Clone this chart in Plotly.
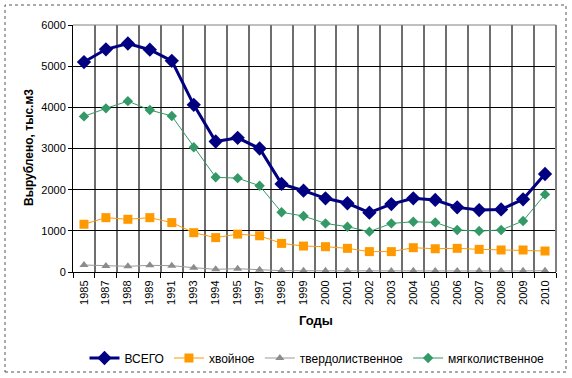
import plotly.graph_objects as go

years = ["1985", "1987", "1988", "1989", "1991", "1993", "1994", "1995", "1997", "1998",
         "1999", "2000", "2001", "2002", "2003", "2004", "2005", "2006", "2007", "2008",
         "2009", "2010"]

total = [5100, 5410, 5550, 5400, 5130, 4060, 3170, 3260, 3000, 2140,
         1975, 1790, 1670, 1440, 1650, 1790, 1750, 1570, 1505, 1520, 1765, 2380]
conifer = [1160, 1320, 1280, 1320, 1200, 955, 835, 920, 880, 695,
           630, 615, 575, 495, 495, 590, 565, 575, 550, 535, 535, 510]
hardwood = [170, 146, 138, 162, 154, 105, 65, 80, 57, 32,
            30, 28, 27, 25, 25, 28, 27, 25, 25, 25, 28, 30]
softwood = [3780, 3975, 4150, 3935, 3790, 3030, 2300, 2280, 2095, 1450,
            1360, 1180, 1100, 980, 1180, 1220, 1205, 1020, 995, 1020, 1240, 1885]

names = ["ВСЕГО", "хвойное", "твердолиственное", "мягколиственное"]

fig = go.Figure()
fig.add_trace(go.Scatter(x=years, y=total, name=names[0], mode="lines+markers",
                         line=dict(color="#000080", width=3),
                         marker=dict(symbol="diamond", size=11, color="#000080")))
fig.add_trace(go.Scatter(x=years, y=conifer, name=names[1], mode="lines+markers",
                         line=dict(color="#FF9900", width=1),
                         marker=dict(symbol="square", size=9, color="#FF9900")))
fig.add_trace(go.Scatter(x=years, y=hardwood, name=names[2], mode="lines+markers",
                         line=dict(color="#999999", width=1),
                         marker=dict(symbol="triangle-up", size=8, color="#8C8C8C")))
fig.add_trace(go.Scatter(x=years, y=softwood, name=names[3], mode="lines+markers",
                         line=dict(color="#339966", width=1),
                         marker=dict(symbol="diamond", size=8, color="#339966")))

W, H = 572, 378
L, R, T, B = 73, 556, 25, 272
pw, ph = R - L, B - T

def px(x):
    return (x - L) / pw

def py(y):
    return (B - y) / ph

fig.update_layout(
    width=W, height=H,
    margin=dict(l=L, r=W - R, t=T, b=H - B, autoexpand=False),
    paper_bgcolor="white", plot_bgcolor="white",
    font=dict(family="Liberation Sans, Arial, sans-serif", size=11, color="black"),
    showlegend=True,
    legend=dict(orientation="h", xref="container", yref="container",
                x=317 / W, xanchor="center", y=1 - 358 / H, yanchor="middle",
                font=dict(size=12), itemwidth=30, tracegroupgap=0, bgcolor="rgba(0,0,0,0)"),
    xaxis=dict(type="category", tickson="boundaries", range=[-0.5, len(years) - 0.5],
               showgrid=True, gridcolor="#6e6e6e", gridwidth=1.5,
               ticks="outside", ticklen=5, tickcolor="black", tickangle=-90,
               showline=True, linecolor="black", linewidth=1, mirror=False,
               tickfont=dict(size=11), ticklabelstandoff=3, automargin=False),
    yaxis=dict(range=[0, 6000], dtick=1000, showgrid=True, gridcolor="black", gridwidth=1,
               ticks="outside", ticklen=4, tickcolor="black",
               showline=True, linecolor="black", linewidth=1,
               tickfont=dict(size=11), zeroline=False, automargin=False),
    annotations=[
        dict(text="<b>Годы</b>", x=px(316), y=py(320), xref="paper", yref="paper",
             xanchor="center", yanchor="middle", showarrow=False, font=dict(size=13)),
        dict(text="<b>Вырублено, тыс.м3</b>", x=px(29), y=py(148), xref="paper", yref="paper",
             xanchor="center", yanchor="middle",
             showarrow=False, textangle=-90, font=dict(size=12)),
    ],
    shapes=[
        dict(type="rect", xref="paper", yref="paper", x0=px(5), x1=px(566), y0=py(372), y1=py(5),
             line=dict(color="#555555", width=1, dash="dot"), layer="below"),
        dict(type="line", xref="paper", yref="paper", x0=1, x1=1, y0=0, y1=1,
             line=dict(color="#808080", width=2)),
        dict(type="line", xref="paper", yref="paper", x0=0, x1=1, y0=1, y1=1,
             line=dict(color="#808080", width=1)),
    ],
)

fig.write_html("out.html",
               config={"displayModeBar": False},
               post_script="document.body.style.margin='0';document.body.style.padding='0';")
